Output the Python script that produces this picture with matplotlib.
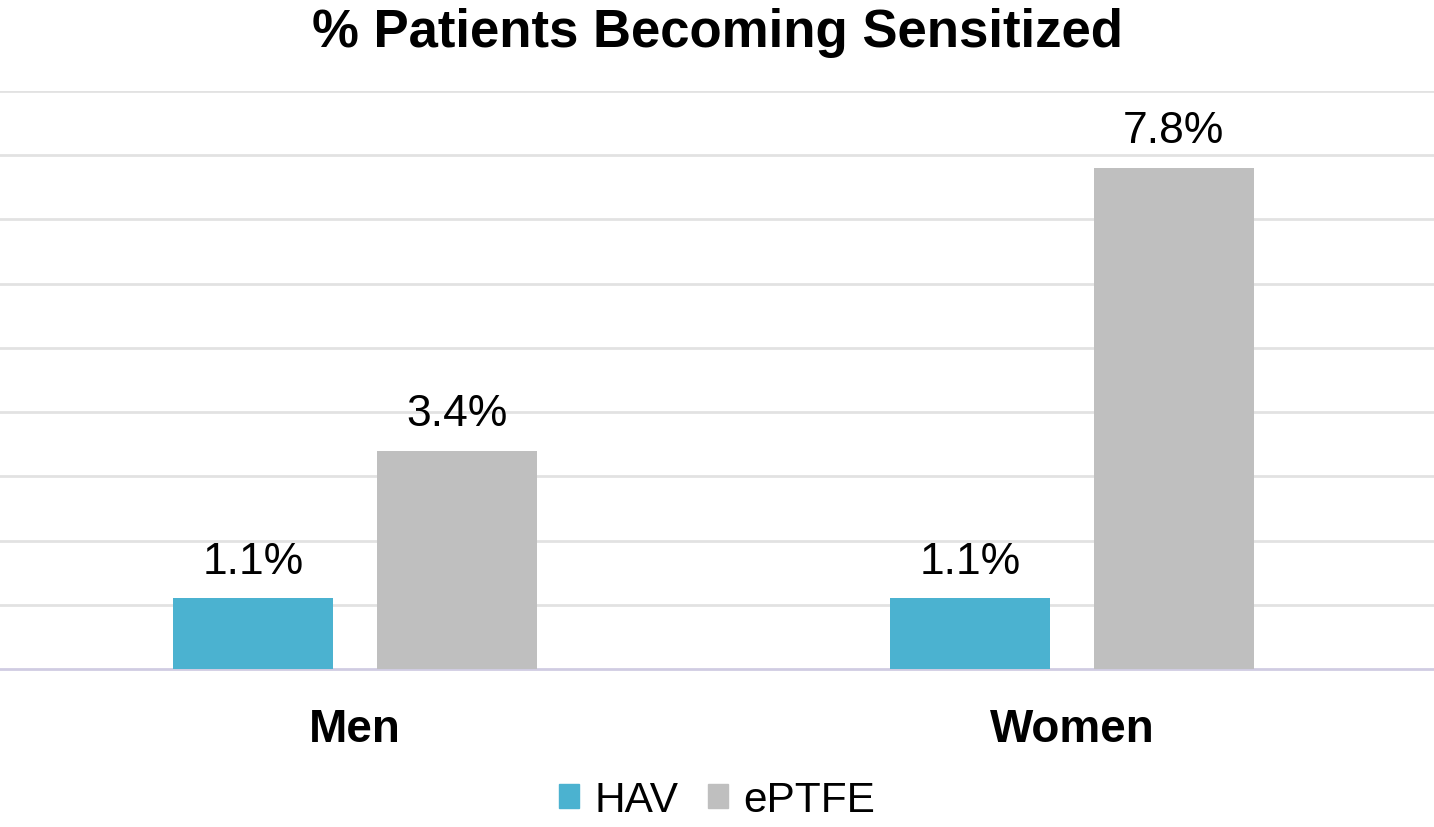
import matplotlib
matplotlib.use("Agg")
import matplotlib.pyplot as plt
import numpy as np
from matplotlib.patches import Patch

categories = ['Men', 'Women']
series_names = ['HAV', 'ePTFE']
hav = [1.1, 1.1]
eptfe = [3.4, 7.8]
colors = ['#4BB2D0', '#BFBFBF']

plt.rcParams['font.family'] = ['Liberation Sans', 'DejaVu Sans']

fig = plt.figure(figsize=(14.34, 8.28), dpi=100)
ax = fig.add_axes([0, 1 - 670 / 828, 1, (670 - 92) / 828])

x = np.arange(len(categories))
w = 0.223
off = 0.142
for vals, dx, c in [(hav, -off, colors[0]), (eptfe, off, colors[1])]:
    bars = ax.bar(x + dx, vals, width=w, color=c, zorder=3)
    for b, v in zip(bars, vals):
        ax.annotate(f'{v:.1f}%', (b.get_x() + b.get_width() / 2, v),
                    xytext=(0, 12), textcoords='offset points',
                    ha='center', va='bottom', fontsize=32, color='black')

ax.set_xlim(-0.495, 1.505)
ax.set_ylim(0, 9)
ax.set_yticks(np.arange(1, 10))
ax.yaxis.grid(True, color='#E2E2E2', linewidth=2, zorder=0)
ax.tick_params(axis='y', left=False, labelleft=False)
ax.tick_params(axis='x', bottom=False, length=0, pad=27)
ax.set_xticks(x)
ax.set_xticklabels(categories, fontsize=33, fontweight='bold')
for s in ['top', 'right', 'left']:
    ax.spines[s].set_visible(False)
ax.spines['bottom'].set_color('#D0CCE2')
ax.spines['bottom'].set_linewidth(2)

fig.text(0.5, 1 - 47 / 828, '% Patients Becoming Sensitized', ha='center', va='baseline',
         fontsize=38, fontweight='bold')

handles = [Patch(color=c, label=n) for c, n in zip(colors, series_names)]
fig.legend(handles=handles, loc='center', bbox_to_anchor=(0.5, 1 - 801 / 828),
           ncol=2, frameon=False, fontsize=30.5, handlelength=0.48, handleheight=0.48,
           handletextpad=0.36, columnspacing=0.7, borderpad=0)

fig.savefig('out.png', dpi=100)
